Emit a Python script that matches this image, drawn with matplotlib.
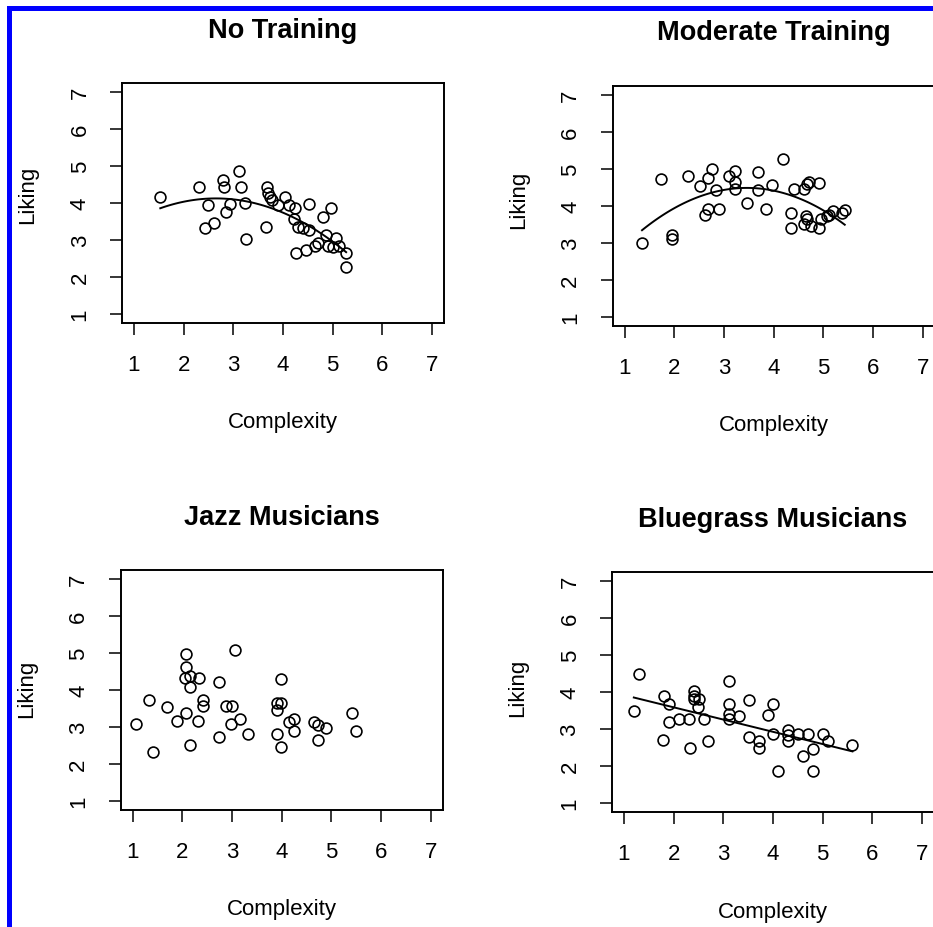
import numpy as np
import matplotlib.pyplot as plt
from matplotlib.patches import Rectangle

plt.rcParams['font.family'] = ['Liberation Sans', 'DejaVu Sans']

titles = ["No Training", "Moderate Training", "Jazz Musicians", "Bluegrass Musicians"]
ticks = [1, 2, 3, 4, 5, 6, 7]

# No Training
none_x = [1.53, 2.30, 2.80, 2.81, 3.12, 3.16, 2.50, 2.93, 2.85, 3.23, 2.42, 2.62, 3.26, 3.65,
          3.68, 3.70, 3.73, 3.77, 3.89, 4.04, 4.12, 4.25, 4.22, 4.31, 4.40, 4.53, 4.53, 4.80,
          4.97, 4.27, 4.47, 4.65, 4.70, 4.86, 4.90, 5.00, 5.07, 5.12, 5.27, 5.27]
none_y = [4.15, 4.44, 4.61, 4.44, 4.86, 4.44, 3.95, 3.98, 3.75, 4.01, 3.33, 3.46, 3.04, 3.36,
          4.42, 4.26, 4.15, 4.07, 3.95, 4.17, 3.94, 3.86, 3.56, 3.35, 3.33, 3.96, 3.26, 3.63,
          3.87, 2.66, 2.74, 2.85, 2.93, 3.13, 2.83, 2.82, 3.05, 2.83, 2.66, 2.27]

# Moderate Training
mod_x = [1.35, 1.73, 1.96, 1.95, 2.28, 2.51, 2.68, 2.75, 2.83, 2.61, 2.68, 2.90, 3.11, 3.23,
         3.23, 3.23, 3.46, 3.68, 3.68, 3.85, 3.96, 4.19, 4.35, 4.35, 4.41, 4.62, 4.68, 4.71,
         4.91, 4.61, 4.66, 4.67, 4.75, 4.91, 4.96, 5.08, 5.11, 5.19, 5.38, 5.43]
mod_y = [2.99, 4.71, 3.22, 3.09, 4.81, 4.53, 4.75, 4.98, 4.42, 3.75, 3.92, 3.92, 4.80, 4.93,
         4.64, 4.46, 4.08, 4.91, 4.42, 3.92, 4.57, 5.25, 3.79, 3.40, 4.46, 4.45, 4.58, 4.63,
         4.61, 3.51, 3.72, 3.65, 3.45, 3.40, 3.63, 3.72, 3.76, 3.85, 3.80, 3.89]

# Jazz Musicians
jazz_x = [1.07, 1.32, 1.40, 1.70, 1.90, 2.07, 2.07, 2.07, 2.06, 2.15, 2.33, 2.15, 2.41, 2.41,
          2.32, 2.16, 2.74, 2.74, 2.88, 3.00, 2.98, 3.06, 3.16, 3.32, 3.91, 3.99, 3.91, 3.98,
          3.91, 3.98, 4.15, 4.25, 4.25, 4.65, 4.74, 4.90, 4.74, 5.42, 5.49]
jazz_y = [3.09, 3.73, 2.33, 3.55, 3.15, 3.39, 4.97, 4.63, 4.32, 4.38, 4.32, 4.07, 3.73, 3.57,
          3.15, 2.52, 4.21, 2.73, 3.57, 3.57, 3.08, 5.07, 3.23, 2.82, 3.65, 3.65, 3.47, 4.30,
          2.82, 2.47, 3.13, 3.23, 2.88, 3.13, 3.06, 2.97, 2.64, 3.38, 2.88]

# Bluegrass Musicians
blue_x = [1.20, 1.31, 1.81, 1.91, 1.90, 1.79, 2.10, 2.31, 2.33, 2.41, 2.41, 2.41, 2.51, 2.50,
          2.61, 2.70, 3.11, 3.11, 3.11, 3.11, 3.31, 3.51, 3.51, 3.71, 3.71, 3.90, 4.00, 4.00,
          4.10, 4.30, 4.30, 4.30, 4.51, 4.71, 4.61, 4.81, 4.81, 5.01, 5.11, 5.60]
blue_y = [3.50, 4.50, 3.89, 3.69, 3.19, 2.71, 3.28, 3.28, 2.49, 4.02, 3.89, 3.82, 3.80, 3.60,
          3.28, 2.69, 4.29, 3.69, 3.41, 3.28, 3.34, 3.78, 2.78, 2.69, 2.48, 3.38, 3.67, 2.87,
          1.88, 2.98, 2.83, 2.69, 2.87, 2.87, 2.28, 2.47, 1.87, 2.87, 2.68, 2.57]

xs = [none_x, mod_x, jazz_x, blue_x]
ys = [none_y, mod_y, jazz_y, blue_y]
fit_deg = [2, 2, 0, 1]

rects = [[0.1308, 0.6509, 0.3451, 0.2586],
         [0.6567, 0.6480, 0.3451, 0.2586],
         [0.1294, 0.1261, 0.3451, 0.2586],
         [0.6559, 0.1239, 0.3451, 0.2586]]
ylab_y = [0.54, 0.53, 0.51, 0.52]

fig = plt.figure(figsize=(9.33, 9.28), dpi=100)

for i in range(4):
    ax = fig.add_axes(rects[i])
    x = np.array(xs[i])
    y = np.array(ys[i])
    ax.plot(x, y, 'o', mfc='none', mec='black', ms=7.8, mew=1.2)
    if fit_deg[i] > 0:
        coef = np.polyfit(x, y, fit_deg[i])
        xx = np.linspace(x.min(), x.max(), 100)
        ax.plot(xx, np.polyval(coef, xx), color='black', lw=1.4)
    ax.set_xlim(0.76, 7.24)
    ax.set_ylim(0.76, 7.24)
    ax.set_xticks(ticks)
    ax.set_yticks(ticks)
    ax.tick_params(direction='out', length=8.6, width=1.1, labelsize=16, pad=14)
    ax.tick_params(axis='y', labelrotation=90)
    for lab in ax.get_yticklabels():
        lab.set_va('center')
    for sp in ax.spines.values():
        sp.set_linewidth(1.4)
    ax.set_xlabel("Complexity", fontsize=16, va='center')
    ax.xaxis.set_label_coords(0.5, -0.4125)
    ax.set_ylabel("Liking", fontsize=16, va='center')
    ax.yaxis.set_label_coords(-0.292, ylab_y[i])
    ax.text(0.5, 1.222, titles[i], transform=ax.transAxes, ha='center', va='center',
            fontsize=19.5, fontweight='bold')

# blue frame at the top and left
fig.patches.append(Rectangle((9.3 / 933, -0.1), 1.2, 1.1 - 8.5 / 928, fill=False,
                             edgecolor='#0000ff', lw=3.6, transform=fig.transFigure,
                             figure=fig))

fig.savefig("out.png", dpi=100)
